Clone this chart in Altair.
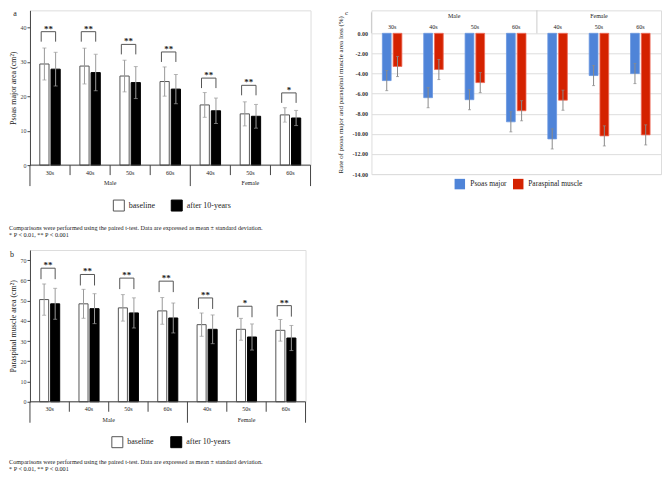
import altair as alt
import pandas as pd

FONT = "Liberation Serif"
TXT = "#222222"

# ---------------- data ----------------
age_groups = ["30s", "40s", "50s", "60s", "40s", "50s", "60s"]
sex_groups = ["Male", "Male", "Male", "Male", "Female", "Female", "Female"]

series_ab = ["baseline", "after 10-years"]
series_c = ["Psoas major", "Paraspinal muscle"]

psoas_baseline = [29.4, 28.8, 25.9, 24.3, 17.5, 14.9, 14.6]
psoas_baseline_sd = [4.65, 5.2, 4.6, 4.25, 3.6, 3.5, 2.1]
psoas_after = [27.9, 26.9, 24.0, 22.1, 15.8, 14.2, 13.7]
psoas_after_sd = [4.9, 5.3, 4.65, 4.25, 3.7, 3.45, 2.2]
psoas_bracket = [38.8, 38.8, 35.1, 32.9, 25.3, 23.2, 21.0]
psoas_sig = ["**", "**", "**", "**", "**", "**", "*"]

para_baseline = [50.5, 48.4, 46.4, 44.9, 38.1, 35.8, 35.3]
para_baseline_sd = [7.75, 7.15, 6.55, 6.6, 5.75, 5.4, 5.35]
para_after = [48.4, 46.0, 43.9, 41.4, 35.8, 32.0, 31.5]
para_after_sd = [7.65, 7.4, 7.45, 7.4, 7.1, 6.45, 6.2]
para_bracket = [66.0, 62.9, 61.1, 59.6, 51.3, 47.2, 47.5]
para_sig = ["**", "**", "**", "**", "**", "*", "**"]

loss_psoas = [-4.7, -6.4, -6.6, -8.8, -10.5, -4.2, -4.0]
loss_psoas_err = [1.0, 1.0, 1.0, 1.0, 1.0, 1.0, 1.0]
loss_para = [-3.3, -3.6, -4.9, -7.7, -6.65, -10.2, -10.1]
loss_para_err = [1.0, 1.0, 1.0, 1.0, 1.0, 1.0, 1.0]

psoas_ticks = [0, 10, 20, 30, 40]
para_ticks = [0, 10, 20, 30, 40, 50, 60, 70]
loss_ticks = [-14, -12, -10, -8, -6, -4, -2, 0]

note_lines = [
    "Comparisons were performed using the paired t-test. Data are expressed as mean \u00b1 standard deviation.",
    "* P < 0.01, ** P < 0.001",
]

n = len(age_groups)
sexes = list(dict.fromkeys(sex_groups))
sex_centers = [sum(i for i in range(n) if sex_groups[i] == s) / sex_groups.count(s) for s in sexes]
minor_b = [k - 0.5 for k in range(1, n) if sex_groups[k] == sex_groups[k - 1]]
major_b = [k - 0.5 for k in range(n + 1) if k == 0 or k == n or sex_groups[k] != sex_groups[k - 1]]


def one(**kw):
    return pd.DataFrame({k: [v] for k, v in kw.items()})


def category_layers(xs, ypix_label, ypix_sex, y0, minor_len, major_len, rule_color, font_size=6):
    X = lambda f: alt.X(f, scale=xs, axis=None)
    lab = alt.Chart(pd.DataFrame({"i": list(range(n)), "age": age_groups})).mark_text(
        font=FONT, fontSize=font_size, color=TXT, baseline="middle"
    ).encode(x=X("i:Q"), y=alt.value(ypix_label), text="age:N")
    sexl = alt.Chart(pd.DataFrame({"i": sex_centers, "sex": sexes})).mark_text(
        font=FONT, fontSize=font_size, color=TXT, baseline="middle"
    ).encode(x=X("i:Q"), y=alt.value(ypix_sex), text="sex:N")
    mnr = alt.Chart(pd.DataFrame({"b": minor_b})).mark_rule(color=rule_color, strokeWidth=1).encode(
        x=X("b:Q"), y=alt.value(y0), y2=alt.value(y0 + minor_len))
    mjr = alt.Chart(pd.DataFrame({"b": major_b})).mark_rule(color=rule_color, strokeWidth=1).encode(
        x=X("b:Q"), y=alt.value(y0 + major_len[0]), y2=alt.value(y0 + major_len[1]))
    return [lab, sexl, mnr, mjr]


def bar_panel(base, base_sd, after, after_sd, bracket, sig, ymax, ticks, title, letter, W, H, leg_px, g):
    xs = alt.Scale(domain=[-0.5, n - 0.5], nice=False, zero=False)
    ys = alt.Scale(domain=[0, ymax], nice=False)
    ax = alt.Axis(values=ticks, title=title, titleFont=FONT, titleFontSize=8, titleFontWeight="normal",
                  titleColor=TXT, titlePadding=2, labelFont=FONT, labelFontSize=6, labelColor="#444",
                  labelPadding=1, tickSize=3, tickColor="#444", domainColor="#444", grid=False)
    X = lambda f: alt.X(f, scale=xs, axis=None)
    Y = lambda f: alt.Y(f, scale=ys, axis=ax)

    rows = []
    for i in range(n):
        for s, v, sd, x0, x1 in ((series_ab[0], base[i], base_sd[i], i - 0.255, i - 0.025),
                                 (series_ab[1], after[i], after_sd[i], i + 0.025, i + 0.255)):
            rows.append(dict(i=i, series=s, v=v, lo=v - sd, hi=v + sd, x0=x0, x1=x1, xc=(x0 + x1) / 2, zero=0))
    df = alt.Chart(pd.DataFrame(rows))

    bars = df.mark_bar(strokeWidth=1).encode(
        x=X("x0:Q"), x2="x1:Q", y=Y("v:Q"), y2="zero:Q",
        fill=alt.Fill("series:N", scale=alt.Scale(domain=series_ab, range=["#ffffff", "#000000"]), legend=None),
        stroke=alt.Stroke("series:N", scale=alt.Scale(domain=series_ab, range=["#555555", "#000000"]), legend=None),
    )
    err = df.mark_rule(color="#9a9a9a", strokeWidth=1).encode(x=X("xc:Q"), y=Y("lo:Q"), y2="hi:Q")
    cap_lo = df.mark_tick(orient="horizontal", size=4, thickness=1, color="#9a9a9a").encode(x=X("xc:Q"), y=Y("lo:Q"))
    cap_hi = df.mark_tick(orient="horizontal", size=4, thickness=1, color="#9a9a9a").encode(x=X("xc:Q"), y=Y("hi:Q"))

    leg_u = leg_px * ymax / H
    br = pd.DataFrame({
        "bx0": [i - 0.22 for i in range(n)], "bx1": [i + 0.14 for i in range(n)],
        "by": bracket, "byl": [b - leg_u for b in bracket], "sig": sig,
    })
    br["bxm"] = (br["bx0"] + br["bx1"]) / 2
    bc = alt.Chart(br)
    br_h = bc.mark_rule(color="#555", strokeWidth=1).encode(x=X("bx0:Q"), x2="bx1:Q", y=Y("by:Q"))
    br_l = bc.mark_rule(color="#555", strokeWidth=1).encode(x=X("bx0:Q"), y=Y("byl:Q"), y2="by:Q")
    br_r = bc.mark_rule(color="#555", strokeWidth=1).encode(x=X("bx1:Q"), y=Y("byl:Q"), y2="by:Q")
    stars = bc.mark_text(font=FONT, fontSize=9, fontWeight="bold", baseline="alphabetic", color=TXT, dy=0).encode(
        x=X("bxm:Q"), y=Y("by:Q"), text="sig:N")

    baseline = alt.Chart(one(a=-0.5, b=n - 0.5, z=0)).mark_rule(color="#444", strokeWidth=1).encode(
        x=X("a:Q"), x2="b:Q", y=Y("z:Q"))

    cats = category_layers(xs, H + 7.5, H + 18, H, 10, (0, 21), "#444")

    letter_t = alt.Chart(one(t=letter)).mark_text(font=FONT, fontSize=8, color=TXT, baseline="middle").encode(
        x=alt.value(g["letter"][0]), y=alt.value(g["letter"][1]), text="t:N")

    ly = H + g["legend_dy"]
    sq1 = alt.Chart(one(t=series_ab[0])).mark_square(size=121, fill="#ffffff", stroke="#555", strokeWidth=1, opacity=1).encode(
        x=alt.value(g["sq"][0]), y=alt.value(ly))
    sq2 = alt.Chart(one(t=series_ab[1])).mark_square(size=121, fill="#000000", stroke="#000", strokeWidth=1, opacity=1).encode(
        x=alt.value(g["sq"][1]), y=alt.value(ly))
    t1 = alt.Chart(one(t=series_ab[0])).mark_text(font=FONT, fontSize=8, color=TXT, align="left", baseline="middle").encode(
        x=alt.value(g["sq"][0] + 10), y=alt.value(ly), text="t:N")
    t2 = alt.Chart(one(t=series_ab[1])).mark_text(font=FONT, fontSize=8, color=TXT, align="left", baseline="middle").encode(
        x=alt.value(g["sq"][1] + 10), y=alt.value(ly), text="t:N")

    notes = []
    for k, line in enumerate(note_lines):
        notes.append(alt.Chart(one(t=line)).mark_text(font=FONT, fontSize=6.2, color=TXT, align="left", baseline="middle").encode(
            x=alt.value(-21), y=alt.value(g["notes"][k]), text="t:N"))

    return alt.layer(bars, err, cap_lo, cap_hi, br_h, br_l, br_r, stars, baseline, *cats,
                     letter_t, sq1, sq2, t1, t2, *notes).properties(width=W, height=H)


panel_a = bar_panel(psoas_baseline, psoas_baseline_sd, psoas_after, psoas_after_sd, psoas_bracket, psoas_sig,
                    45, psoas_ticks, "Psoas major area (cm\u00b2)", "a", 281, 155, 10,
                    dict(letter=(-15, 4), legend_dy=40.5, sq=(89, 147), notes=(218, 225)))
panel_b = bar_panel(para_baseline, para_baseline_sd, para_after, para_after_sd, para_bracket, para_sig,
                    75, para_ticks, "Paraspinal muscle area (cm\u00b2)", "b", 276, 152, 11,
                    dict(letter=(-18, 5), legend_dy=40.5, sq=(87.5, 146.5), notes=(212, 219)))

# ---------------- panel c ----------------
# the header band (23 px) lies inside the plot area, above the 0 line
WC, HC = 290, 164
HDR = 23
c_top = 14 * HDR / (HC - HDR)
xs_c = alt.Scale(domain=[-0.5, n - 0.5], nice=False, zero=False)
ys_c = alt.Scale(domain=[-14, c_top], nice=False, zero=False)
ax_c = alt.Axis(values=loss_ticks, labelExpr="replace(format(datum.value, '.2f'), '\u2212', '-')",
                labelFont=FONT, labelFontSize=6, labelFontWeight="bold", labelColor="#333", labelPadding=4,
                ticks=False, domain=False, grid=True, gridColor="#dddddd", gridWidth=1,
                title="Rate of psoas major and paraspinal muscle area loss (%)", titleFont=FONT,
                titleFontSize=7, titleFontWeight="normal", titleColor=TXT, titleX=-31, titleY=84,
                titleAngle=270, titleAlign="center", titleBaseline="middle")
Xc = lambda f: alt.X(f, scale=xs_c, axis=None)
Yc = lambda f: alt.Y(f, scale=ys_c, axis=ax_c)

rows_c = []
for i in range(n):
    for s, v, e, x0, x1 in ((series_c[0], loss_psoas[i], loss_psoas_err[i], i - 0.236, i - 0.024),
                            (series_c[1], loss_para[i], loss_para_err[i], i + 0.024, i + 0.236)):
        rows_c.append(dict(i=i, series=s, v=v, lo=v - e, hi=v + e, x0=x0, x1=x1, xc=(x0 + x1) / 2, zero=0))
dc = alt.Chart(pd.DataFrame(rows_c))
BLUE, RED = "#4f84d8", "#d42200"
bars_c = dc.mark_bar(strokeWidth=0.8).encode(
    x=Xc("x0:Q"), x2="x1:Q", y=Yc("v:Q"), y2="zero:Q",
    fill=alt.Fill("series:N", scale=alt.Scale(domain=series_c, range=[BLUE, RED]), legend=None),
    stroke=alt.Stroke("series:N", scale=alt.Scale(domain=series_c, range=["#6a97e0", "#ee6a58"]), legend=None),
)
err_c = dc.mark_rule(color="#8a8a8a", strokeWidth=1).encode(x=Xc("xc:Q"), y=Yc("lo:Q"), y2="hi:Q")
capl_c = dc.mark_tick(orient="horizontal", size=3, thickness=1, color="#8a8a8a").encode(x=Xc("xc:Q"), y=Yc("lo:Q"))
caph_c = dc.mark_tick(orient="horizontal", size=3, thickness=1, color="#8a8a8a").encode(x=Xc("xc:Q"), y=Yc("hi:Q"))

lab_c = alt.Chart(pd.DataFrame({"i": list(range(n)), "age": age_groups})).mark_text(
    font=FONT, fontSize=6, color=TXT, baseline="middle").encode(x=Xc("i:Q"), y=alt.value(HDR - 6), text="age:N")
sex_c = alt.Chart(pd.DataFrame({"i": sex_centers, "sex": sexes})).mark_text(
    font=FONT, fontSize=6, color=TXT, baseline="middle").encode(x=Xc("i:Q"), y=alt.value(HDR - 17), text="sex:N")
hdr_left = alt.Chart(one(b=-0.5)).mark_rule(color="#cccccc", strokeWidth=1).encode(
    x=Xc("b:Q"), y=alt.value(2), y2=alt.value(HDR))
hdr_mid = alt.Chart(pd.DataFrame({"b": [b for b in major_b if 0 < b < n - 1]})).mark_rule(
    color="#cccccc", strokeWidth=1).encode(x=Xc("b:Q"), y=alt.value(0), y2=alt.value(HDR))
letter_c = alt.Chart(one(t="c")).mark_text(font=FONT, fontSize=7, color=TXT, baseline="middle").encode(
    x=alt.value(-25), y=alt.value(3), text="t:N")

LY = HDR + 151
lsq1 = alt.Chart(one(t=series_c[0])).mark_square(size=110, fill=BLUE, opacity=1).encode(x=alt.value(88.5), y=alt.value(LY))
lsq2 = alt.Chart(one(t=series_c[1])).mark_square(size=110, fill=RED, opacity=1).encode(x=alt.value(147), y=alt.value(LY))
lt1 = alt.Chart(one(t=series_c[0])).mark_text(font=FONT, fontSize=7.5, color=TXT, align="left", baseline="middle").encode(
    x=alt.value(99), y=alt.value(LY), text="t:N")
lt2 = alt.Chart(one(t=series_c[1])).mark_text(font=FONT, fontSize=7.5, color=TXT, align="left", baseline="middle").encode(
    x=alt.value(157), y=alt.value(LY), text="t:N")

panel_c = alt.layer(bars_c, err_c, capl_c, caph_c, lab_c, sex_c, hdr_left, hdr_mid, letter_c,
                    lsq1, lsq2, lt1, lt2).properties(width=WC, height=HC)

left = alt.vconcat(panel_a, panel_b, spacing=10)
chart = alt.hconcat(left, panel_c, spacing=24).resolve_scale(
    fill="independent", stroke="independent").properties(padding=0).configure_view(stroke=None).configure(
    background="white")

chart.save("out.html", embed_options={"renderer": "svg", "actions": False})
